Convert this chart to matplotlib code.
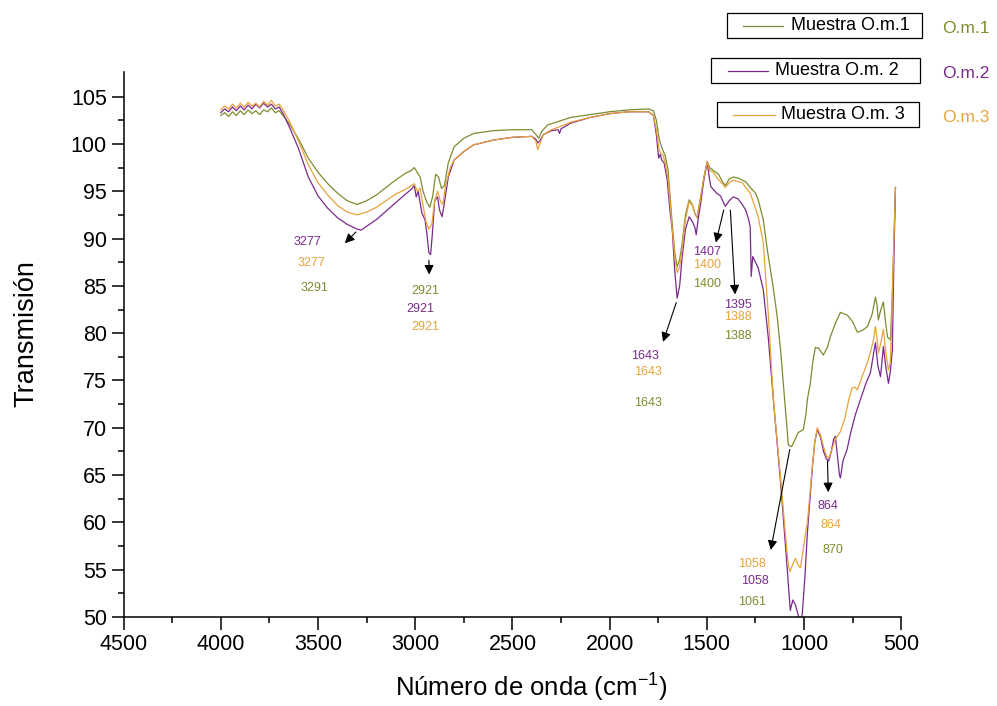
import matplotlib.pyplot as plt
from matplotlib.lines import Line2D
from matplotlib.patches import Rectangle

plt.rcParams['font.family'] = ['Liberation Sans', 'DejaVu Sans']
plt.rcParams['mathtext.fontset'] = 'custom'
plt.rcParams['mathtext.rm'] = 'Liberation Sans'
plt.rcParams['mathtext.default'] = 'regular'

# Muestra O.m.1
wn1 = [4000, 3980, 3960, 3940, 3920, 3900, 3880, 3860, 3840, 3820, 3800, 3780, 3760, 3740, 3720, 3700, 3680,
       3650, 3600, 3550, 3500, 3450, 3400, 3350, 3300, 3250, 3200, 3150, 3100, 3050, 3020, 3005, 2990, 2975,
       2960, 2940, 2925, 2910, 2895, 2880, 2865, 2850, 2830, 2800, 2750, 2700, 2600, 2500, 2400, 2380, 2365,
       2350, 2320, 2260, 2200, 2100, 2000, 1900, 1800, 1775, 1760, 1745, 1730, 1715, 1700, 1680, 1665, 1653,
       1640, 1627, 1610, 1591, 1575, 1560, 1550, 1535, 1515, 1498, 1485, 1467, 1440, 1420, 1405, 1385, 1364,
       1340, 1320, 1300, 1277, 1250, 1236, 1210, 1189, 1160, 1138, 1120, 1107, 1090, 1081, 1065, 1050, 1030,
       1004, 990, 983, 968, 955, 942, 925, 901, 880, 865, 840, 813, 777, 750, 726, 700, 674, 650, 633, 625,
       618, 605, 592, 580, 571, 556, 546, 538, 530]
t1 = [103.0, 103.3, 102.9, 103.4, 103.0, 103.5, 103.1, 103.6, 103.2, 103.5, 103.1, 103.6, 103.4, 103.8, 103.3,
      103.5, 103.0, 102.2, 100.5, 98.5, 97.0, 95.8, 94.8, 94.0, 93.6, 94.0, 94.6, 95.4, 96.2, 96.9, 97.2, 97.5,
      97.0, 96.5, 95.0, 93.8, 93.3, 94.5, 96.8, 96.5, 95.3, 95.6, 98.0, 99.7, 100.6, 101.1, 101.4, 101.5, 101.5,
      101.0, 100.6, 101.3, 102.0, 102.4, 102.8, 103.1, 103.4, 103.6, 103.7, 103.5, 102.5, 100.5, 99.5, 98.8,
      97.3, 92.0, 88.5, 87.0, 87.8, 89.5, 92.5, 94.1, 93.6, 92.6, 92.2, 94.0, 96.5, 98.1, 97.5, 97.2, 96.8,
      96.0, 95.6, 96.3, 96.5, 96.4, 96.2, 96.0, 95.4, 94.8, 94.1, 92.0, 88.8, 85.0, 81.7, 78.0, 74.7, 70.5,
      68.2, 68.0, 68.6, 69.5, 69.8, 71.5, 73.0, 74.7, 77.0, 78.5, 78.4, 77.7, 78.5, 79.6, 81.0, 82.2, 81.9,
      81.2, 80.1, 80.3, 80.7, 82.0, 83.8, 83.0, 81.4, 82.5, 83.3, 81.0, 79.6, 79.3, 84.3, 90.0, 95.4]

# Muestra O.m. 2
wn2 = [4000, 3980, 3960, 3940, 3920, 3900, 3880, 3860, 3840, 3820, 3800, 3780, 3760, 3740, 3720, 3700, 3680,
       3650, 3600, 3550, 3500, 3450, 3400, 3350, 3300, 3277, 3250, 3200, 3150, 3100, 3050, 3020, 3005, 2995,
       2985, 2966, 2950, 2940, 2930, 2921, 2912, 2900, 2885, 2875, 2862, 2850, 2830, 2800, 2750, 2700, 2600,
       2500, 2400, 2380, 2370, 2360, 2340, 2300, 2265, 2258, 2250, 2200, 2100, 2000, 1900, 1800, 1775, 1760,
       1748, 1740, 1732, 1720, 1704, 1690, 1678, 1665, 1653, 1640, 1627, 1610, 1591, 1575, 1562, 1555, 1545,
       1530, 1515, 1498, 1488, 1480, 1467, 1450, 1430, 1405, 1385, 1364, 1340, 1318, 1300, 1285, 1277, 1272,
       1264, 1250, 1236, 1210, 1184, 1158, 1120, 1090, 1071, 1058, 1045, 1030, 1019, 1009, 995, 983, 957, 945,
       932, 915, 900, 885, 873, 860, 848, 839, 828, 818, 813, 800, 779, 760, 736, 710, 680, 659, 645, 633, 620,
       607, 592, 580, 566, 556, 546, 538, 530]
t2 = [103.3, 103.7, 103.4, 103.9, 103.5, 104.0, 103.6, 104.1, 103.7, 104.2, 103.8, 104.3, 103.9, 104.2, 103.7,
      103.9, 103.2, 101.9, 99.5, 96.5, 94.5, 93.2, 92.2, 91.5, 91.0, 90.9, 91.3, 92.0, 92.9, 93.8, 94.7, 95.2,
      95.6, 94.4, 95.0, 92.7, 92.0, 90.5, 88.5, 88.3, 90.5, 94.0, 94.4, 93.0, 92.3, 93.8, 96.5, 98.3, 99.2,
      99.9, 100.4, 100.7, 100.8, 100.5, 100.1, 100.3, 101.0, 101.4, 101.5, 101.1, 101.6, 102.2, 102.8, 103.2,
      103.4, 103.4, 103.0, 101.0, 98.5, 98.9, 98.3, 98.0, 96.2, 93.0, 90.9, 86.5, 83.7, 85.0, 88.1, 91.0,
      92.3, 91.8, 91.2, 90.4, 92.0, 94.0, 96.3, 98.1, 96.5, 95.5, 95.2, 94.8, 94.5, 93.4, 94.0, 94.4, 94.2,
      93.6, 93.0, 92.0, 91.2, 86.0, 88.1, 87.5, 86.9, 84.6, 79.5, 73.0, 64.0, 56.0, 50.7, 51.8, 51.3, 50.2,
      49.3, 50.4, 54.5, 58.9, 65.9, 68.5, 69.8, 69.0, 67.5, 66.7, 66.5, 67.5, 68.8, 69.1, 67.0, 65.0, 64.7,
      66.5, 67.7, 69.5, 71.4, 73.0, 74.8, 75.8, 77.5, 79.0, 76.5, 75.4, 78.6, 76.5, 74.7, 76.0, 78.2, 88.0, 95.4]

# Muestra O.m. 3
wn3 = [4000, 3980, 3960, 3940, 3920, 3900, 3880, 3860, 3840, 3820, 3800, 3780, 3760, 3740, 3720, 3700, 3680,
       3650, 3600, 3550, 3500, 3450, 3400, 3350, 3300, 3250, 3200, 3150, 3100, 3050, 3020, 3005, 2990, 2975,
       2960, 2945, 2930, 2915, 2900, 2885, 2870, 2858, 2845, 2820, 2800, 2750, 2700, 2600, 2500, 2400, 2380,
       2370, 2360, 2340, 2300, 2260, 2200, 2100, 2000, 1900, 1800, 1775, 1760, 1745, 1735, 1725, 1715, 1700,
       1680, 1665, 1653, 1640, 1627, 1610, 1591, 1575, 1560, 1550, 1535, 1515, 1498, 1485, 1467, 1440, 1420,
       1405, 1385, 1364, 1340, 1318, 1300, 1277, 1255, 1236, 1210, 1184, 1158, 1120, 1095, 1081, 1072, 1060,
       1045, 1030, 1019, 1009, 995, 983, 957, 945, 932, 915, 900, 885, 873, 860, 840, 813, 790, 770, 753, 740,
       726, 700, 674, 655, 643, 633, 625, 618, 605, 592, 580, 566, 556, 546, 538, 530]
t3 = [103.6, 104.0, 103.7, 104.2, 103.8, 104.3, 103.9, 104.4, 104.0, 104.3, 103.9, 104.5, 104.1, 104.6, 104.0,
      104.2, 103.6, 102.5, 100.3, 97.8, 95.9, 94.6, 93.5, 92.8, 92.5, 92.8, 93.3, 94.0, 94.7, 95.2, 95.6, 95.8,
      95.0, 95.3, 93.5, 91.8, 91.0, 91.5, 94.0, 95.0, 93.9, 93.6, 95.5, 97.5, 98.3, 99.2, 99.9, 100.4, 100.7,
      100.8, 100.3, 99.4, 100.0, 101.0, 101.5, 101.8, 102.3, 102.8, 103.2, 103.4, 103.4, 103.0, 101.5, 99.3,
      99.0, 98.8, 98.0, 96.4, 91.5, 88.0, 86.4, 87.0, 89.0, 92.0, 93.9, 93.5, 92.5, 92.3, 94.0, 96.5, 98.1,
      97.2, 97.0, 96.2, 95.8, 95.4, 95.9, 96.2, 96.0, 95.9, 95.4, 94.8, 93.5, 92.3, 89.6, 82.0, 73.0, 64.5,
      58.5, 55.5, 54.8, 55.5, 56.2, 55.5, 55.2, 56.5, 58.5, 60.0, 66.0, 68.5, 70.0, 69.2, 68.0, 67.0, 66.8,
      67.5, 68.8, 69.6, 71.0, 73.0, 74.2, 74.3, 74.0, 75.5, 76.9, 78.3, 79.3, 80.7, 79.5, 77.9, 79.0, 80.4,
      78.0, 76.1, 77.0, 84.0, 90.0, 95.4]

names = ['Muestra O.m.1', 'Muestra O.m. 2', 'Muestra O.m. 3']
tags = ['O.m.1', 'O.m.2', 'O.m.3']
colors = ['#7d8c2e', '#7a2a8c', '#e8a23c']

# peak labels: text, x, y, series index
peak_labels = [
    ('3277', 3553, 89.6, 1), ('3277', 3532, 87.4, 2), ('3291', 3517, 84.8, 0),
    ('2921', 2950, 84.5, 0), ('2921', 2976, 82.6, 1), ('2921', 2950, 80.7, 2),
    ('1643', 1817, 77.6, 1), ('1643', 1802, 75.9, 2), ('1643', 1802, 72.6, 0),
    ('1407', 1498, 88.6, 1), ('1400', 1498, 87.2, 2), ('1400', 1498, 85.2, 0),
    ('1395', 1338, 83.0, 1), ('1388', 1338, 81.7, 2), ('1388', 1338, 79.7, 0),
    ('1058', 1266, 55.6, 2), ('1058', 1251, 53.8, 1), ('1061', 1266, 51.6, 0),
    ('864', 875, 61.7, 1), ('864', 860, 59.7, 2), ('870', 849, 57.1, 0),
]
# arrows: (tail x, tail y), (head x, head y)
arrows = [
    ((3295, 90.9), (3372, 89.3)),
    ((2930, 88.0), (2928, 85.9)),
    ((1653, 83.5), (1730, 78.8)),
    ((1410, 93.3), (1457, 89.3)),
    ((1380, 93.3), (1354, 83.8)),
    ((1071, 68.0), (1174, 56.8)),
    ((880, 66.8), (875, 62.9)),
]

fig = plt.figure(figsize=(9.97, 7.06), dpi=100)
ax = fig.add_axes([0.124, 0.126, 0.780, 0.772])

ax.plot(wn1, t1, color=colors[0], lw=0.9)
ax.plot(wn2, t2, color=colors[1], lw=0.9)
ax.plot(wn3, t3, color=colors[2], lw=0.9)

for txt, x, y, k in peak_labels:
    ax.text(x, y, txt, color=colors[k], fontsize=9, ha='center', va='center')
for (x0, y0), (x1, y1) in arrows:
    ax.annotate('', xy=(x1, y1), xytext=(x0, y0),
                arrowprops=dict(arrowstyle='-|>', color='black', lw=0.8, mutation_scale=14))

ax.set_xlim(4500, 500)
ax.set_ylim(50, 107.6)
ax.set_xticks(range(4500, 499, -500))
ax.set_xticks(range(4250, 500, -500), minor=True)
ax.set_yticks(range(50, 106, 5))
ax.set_yticks([52.5 + 5 * i for i in range(11)], minor=True)
ax.tick_params(which='major', direction='out', length=9, width=1.1, labelsize=15.5, pad=3)
ax.tick_params(which='minor', direction='out', length=4.5, width=1.1)
for s in ['top', 'right']:
    ax.spines[s].set_visible(False)
for s in ['left', 'bottom']:
    ax.spines[s].set_linewidth(1.1)
ax.set_xlabel('Número de onda (cm$^{-1}$)', fontsize=18.5)
ax.set_ylabel('Transmisión', fontsize=19.5)
ax.xaxis.set_label_coords(0.524, -0.100)
ax.yaxis.set_label_coords(-0.108, 0.52)

# separate legend boxes, upper right (pixel layout of the original)
W, H = 997, 706
boxes = [(727, 13, 922, 38), (711, 58, 920, 83), (717, 102, 919, 127)]
line_x = [(743, 783), (728, 768), (733, 775)]
text_x = [791, 775, 781]
for i in range(3):
    x0, y0, x1, y1 = boxes[i]
    fig.add_artist(Rectangle((x0 / W, 1 - y1 / H), (x1 - x0) / W, (y1 - y0) / H,
                             transform=fig.transFigure, fill=False, edgecolor='black', lw=0.9))
    yc = 1 - (y0 + y1) / 2 / H
    fig.add_artist(Line2D([line_x[i][0] / W, line_x[i][1] / W], [yc, yc],
                          transform=fig.transFigure, color=colors[i], lw=0.9))
    fig.text(text_x[i] / W, yc, names[i], fontsize=13, ha='left', va='center')
    fig.text(966 / W, yc - 3 / H, tags[i], color=colors[i], fontsize=12.5, ha='center', va='center')

fig.savefig('out.png', dpi=100)
